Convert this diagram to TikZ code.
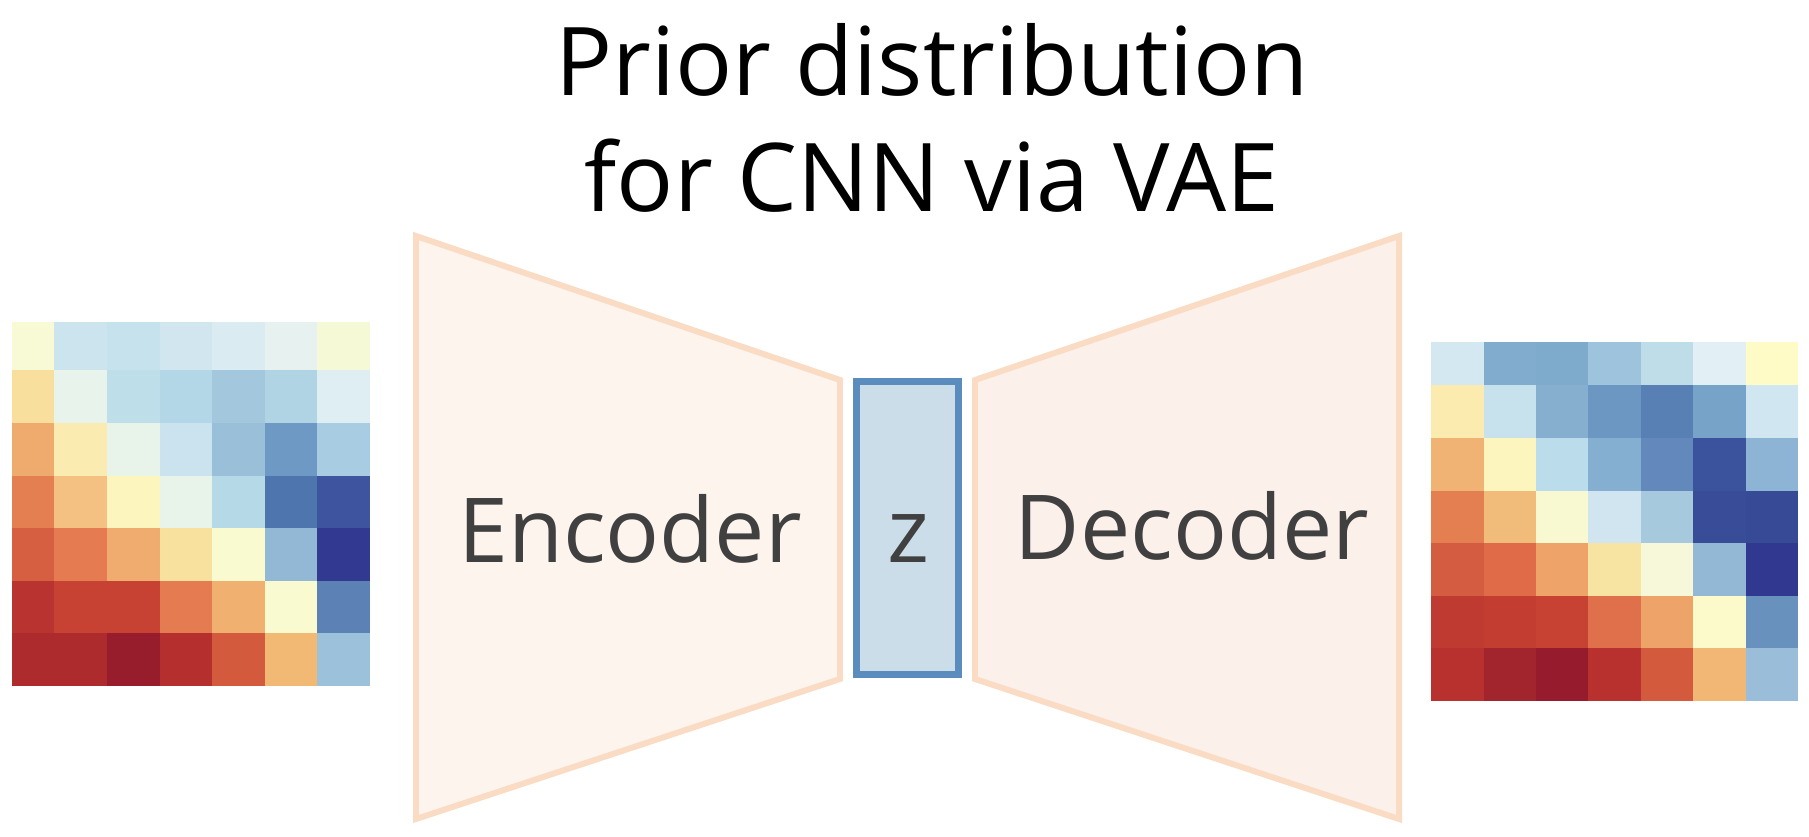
\documentclass[tikz,border=0pt]{standalone}
\usepackage{fontspec}
\setmainfont{Open Sans}
\usetikzlibrary{positioning}
\definecolor{peach}{HTML}{F9DCC3}
\definecolor{encfill}{HTML}{FDF4EE}
\definecolor{decfill}{HTML}{FCF0EA}
\definecolor{zfill}{HTML}{CCDDEA}
\definecolor{zdraw}{HTML}{5B8CBE}
\definecolor{ink}{HTML}{404040}

\begin{document}
\begin{tikzpicture}[x=0.02cm,y=-0.02cm,
    coder/.style={draw=peach,line width=3.4pt,line join=miter},
    word/.style={ink,font=\fontsize{51}{60}\selectfont,anchor=base,inner sep=0pt}]
\useasboundingbox (0,0) rectangle (1809,837);

    % title
    \node[font=\fontsize{54}{66}\selectfont,align=center] (title) at (932,118) {Prior distribution\\for CNN via VAE};

    % input heatmap
    \begin{scope}
    \clip (12,323) rectangle (370,686);
	\foreach \row [count=\i from 0] in {{F7FAD4,CCE4EE,C6E2EC,D2E6EF,DAECF2,E7F2F0,F5F9D6},
	    {F8DF9D,E8F3EB,BEDEE9,B3D7E6,A3C7DD,B1D4E4,DFEEF3},
	    {EFAA6D,FAEBB0,E8F3EA,CBE3EE,9AC0D9,6E99C4,A8CCE1},
	    {E47F52,F4C182,FCF5BD,E8F3EA,B5D9E6,4E75AD,3E549E},
	    {D65E41,E47B51,F0AC6E,F8E09E,FAFAD0,93B8D5,313A90},
	    {B93430,C74233,C84233,E47B51,F0B170,FAFAD0,5C82B5},
	    {AD2A2D,AD2A2D,971C2C,B52F2F,D45A3E,F2B975,9CC2DB}}
		\foreach \c [count=\j from 0] in \row {
		    \definecolor{cell}{HTML}{\c}
		    \fill[cell] (370-52.6*7+52.6*\j,686-52.6*7+52.6*\i) rectangle ++(52.6,52.6);
		}
    \end{scope}

    % output heatmap
    \begin{scope}
    \clip (1431,343) rectangle (1798,701);
	\foreach \row [count=\i from 0] in {{D4E8F1,82ACCD,7EAACB,9EC3DC,BEDDE9,E2F0F5,FEFBC6},
	    {FBEBAE,C7E2ED,86AFCF,6C97C2,5880B5,78A3C8,D0E6F0},
	    {F1B374,FCF5BD,BBDCEA,85AFD0,6389BC,3B529D,8DB4D5},
	    {E47F52,F1BB79,F9F9D1,D0E5EF,A6C9DE,394C98,374A96},
	    {D45C41,DF6B49,EEA469,F7E3A2,F7F8DA,93B8D5,30388F},
	    {BF3A30,C33D30,C74233,E0704C,EEA469,FCF9CA,6891BE},
	    {B9312F,A2242C,961B2C,B9312F,D45A3E,F2B675,9ABEDA}}
		\foreach \c [count=\j from 0] in \row {
		    \definecolor{cell}{HTML}{\c}
		    \fill[cell] (1798-52.4*7+52.4*\j,701-52.6*7+52.6*\i) rectangle ++(52.4,52.6);
		}
    \end{scope}

    % encoder and decoder
    \draw[coder,fill=encfill] (416,236) -- (840,380) -- (840,679) -- (416,819) -- cycle;
    \draw[coder,fill=decfill] (975,380) -- (1399,236) -- (1399,819) -- (975,679) -- cycle;

    % latent code
    \draw[zdraw,fill=zfill,line width=4pt] (856.5,381.5) rectangle (958.5,674.5);

    % labels
    \node[word] (enc) at (630,562) {Encoder};
    \node[word] (z) at (908,562) {z};
    \node[word] (dec) at (1192,560) {Decoder};
\end{tikzpicture}
\end{document}
